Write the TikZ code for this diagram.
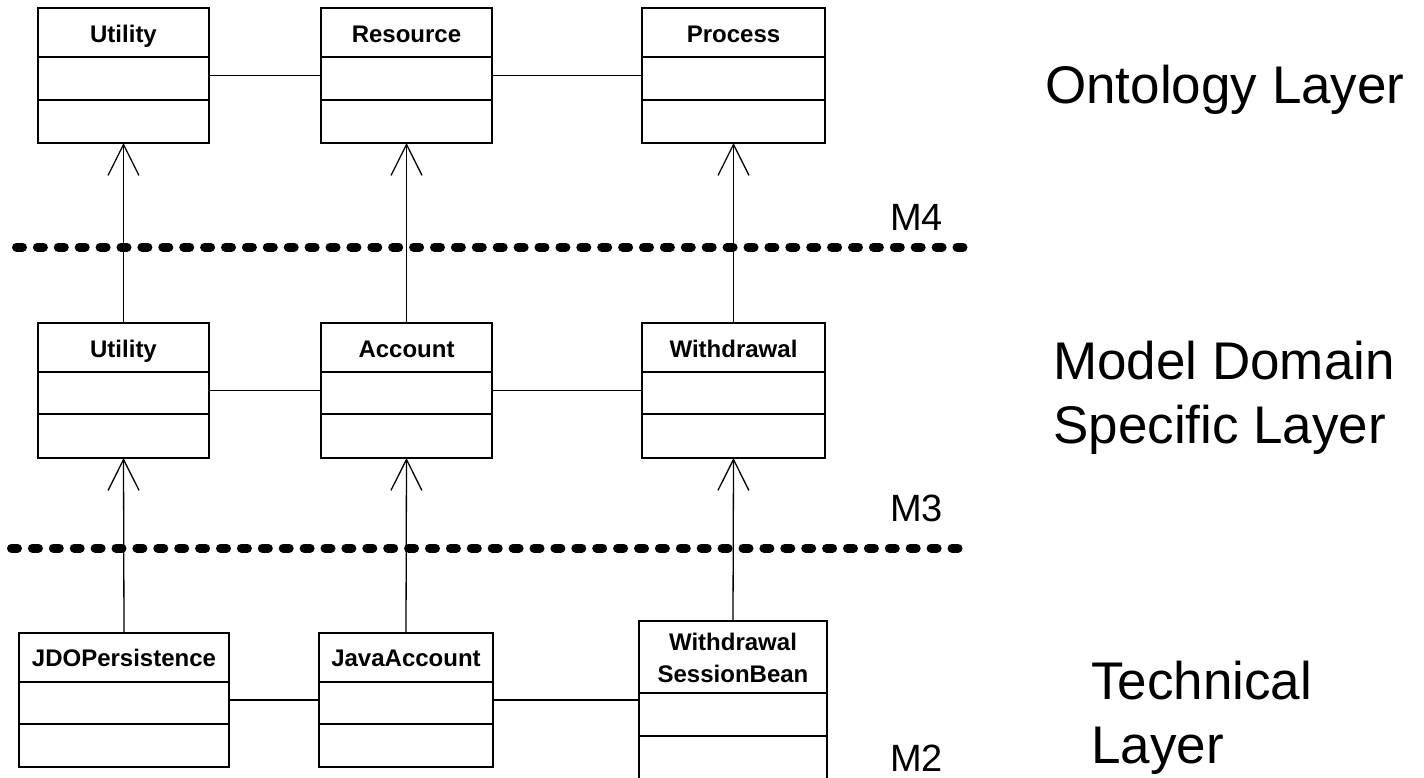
\documentclass[tikz,border=0pt]{standalone}
\usepackage{fontspec}
\setmainfont{Liberation Sans}
\usetikzlibrary{arrows.meta}
\tikzset{
  classbox/.style={draw, line width=2pt, inner sep=0pt, outer sep=0pt},
  divider/.style={line width=2pt},
  classname/.style={font=\bfseries\fontsize{24}{32}\selectfont, align=center, inner sep=0pt, anchor=base},
  assoc/.style={line width=1.2pt},
  gen/.style={line width=1.3pt, -{Straight Barb[length=31pt, width=31pt, line width=1.3pt]}},
  layerline/.style={line width=9pt, line cap=round, dash pattern=on 6pt off 14.9pt},
  mlabel/.style={font=\fontsize{38}{46}\selectfont, inner sep=0pt, anchor=base west},
  layerlabel/.style={font=\fontsize{53}{64}\selectfont, inner sep=0pt, anchor=base west, align=left},
}
% name, left, right, top, div1, div2, bottom, baseline of (last) title line, title
\newcommand{\umlclass}[9]{%
  \node[classbox, minimum width={(#3-#2)*1pt}, minimum height={(#7-#4)*1pt}] (#1) at ({(#2+#3)/2},{(#4+#7)/2}) {};
  \draw[divider] (#2,#5) -- (#3,#5);
  \draw[divider] (#2,#6) -- (#3,#6);
  \node[classname] (#1-name) at ({(#2+#3)/2},#8) {#9};
}
\begin{document}
\begin{tikzpicture}[x=1pt, y=-1pt]
\useasboundingbox (0,0) rectangle (1424,777);
\fill[white] (0,0) rectangle (1424,777);
\clip (0,0) rectangle (1424,777);

% layer separators
\coordinate (m4a) at (16.5,247);
\coordinate (m4b) at (963.5,247);
\coordinate (m3a) at (11.5,548);
\coordinate (m3b) at (968.5,548);
\draw[layerline] (m4a) -- (m4b);
\draw[layerline] (m3a) -- (m3b);

% ontology layer
\umlclass{uTop}{38}{209}{8}{57}{100}{143}{42}{Utility}
\umlclass{rTop}{321}{492}{8}{57}{100}{143}{42}{Resource}
\umlclass{pTop}{642}{825}{8}{57}{100}{143}{42}{Process}

% model domain specific layer
\umlclass{uMid}{38}{209}{323}{372}{414}{458}{357}{Utility}
\umlclass{acc}{321}{492}{323}{372}{414}{458}{357}{Account}
\umlclass{wd}{642}{825}{323}{372}{414}{458}{357}{Withdrawal}

% technical layer
\umlclass{jdo}{19}{229}{633}{682}{724}{767}{666}{JDOPersistence}
\umlclass{jac}{319}{493}{633}{682}{724}{767}{666}{JavaAccount}
\umlclass{wsb}{639}{827}{621}{693}{736}{800}{682}{Withdrawal\\SessionBean}

% associations
\draw[assoc] (uTop.east) -- (rTop.west);
\draw[assoc] (rTop.east) -- (pTop.west);
\draw[assoc] (uMid.east) -- (acc.west);
\draw[assoc] (acc.east) -- (wd.west);
\draw[assoc] (jdo.east) -- (jac.west);
\draw[assoc] (jac.east) -- (jac.east -| wsb.west);

% generalisations
\draw[gen] (uMid.north) -- (uTop.south);
\draw[gen] (acc.north) -- (rTop.south);
\draw[gen] (wd.north) -- (pTop.south);
\draw[gen] (jdo.north) -- (uMid.south);
\draw[gen] (jac.north) -- (acc.south);
\draw[gen] (wsb.north) -- (wd.south);

% labels
\node[mlabel] (m4) at (890,230) {M4};
\node[mlabel] (m3) at (890,521) {M3};
\node[mlabel] (m2) at (890,771) {M2};
\node[layerlabel] (ont) at (1045,103) {Ontology Layer};
\node[layerlabel] (mdsl) at (1053,443) {Model Domain\\Specific Layer};
\node[layerlabel] (tech) at (1091,763) {Technical\\Layer};
\end{tikzpicture}
\end{document}
